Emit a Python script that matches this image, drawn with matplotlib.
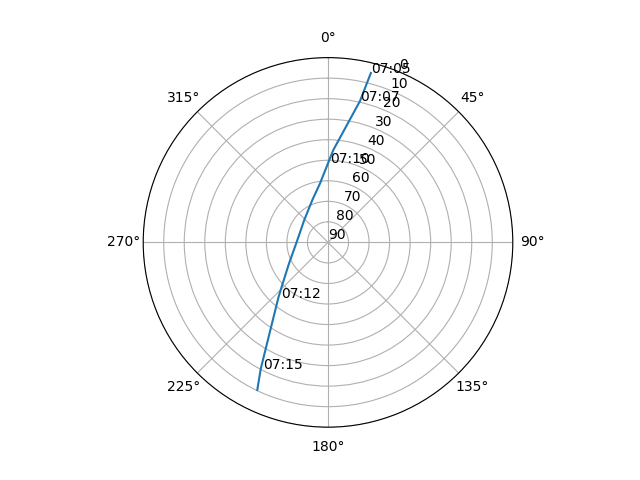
import numpy as np
import matplotlib
matplotlib.use("Agg")
import matplotlib.pyplot as plt

# ---- PASS DATA (azimuth deg, elevation deg) ---- #
az = [14.2, 12.75, 3.3, 0.1, 352.3, 339.7, 313.4, 271.3, 241.8, 226.3,
      221.9, 208.0, 205.6]
el = [4.9, 19.4, 44.9, 51.3, 61.0, 68.0, 74.1, 74.8, 68.5, 58.8,
      53.8, 20.2, 10.3]

# ---- TIME LABELS ---- #
lbl_times = ['07:05', '07:07', '07:10', '07:12', '07:15']
lbl_az = [14.2, 12.75, 1.2, 220.5, 207.1]
lbl_el = [4.9, 19.4, 51.3, 54.5, 20.7]

fig = plt.figure(figsize=(6.4, 4.8), dpi=100)
ax = fig.add_subplot(111, projection='polar')
ax.set_theta_zero_location('N')
ax.set_theta_direction(-1)

ax.plot(np.radians(az), el)

for t, a, e in zip(lbl_times, lbl_az, lbl_el):
    ax.annotate(t, xy=(np.radians(a), e))

ax.set_ylim(90, 0)
ax.set_yticks(range(0, 91, 10))

fig.savefig("out.png")
